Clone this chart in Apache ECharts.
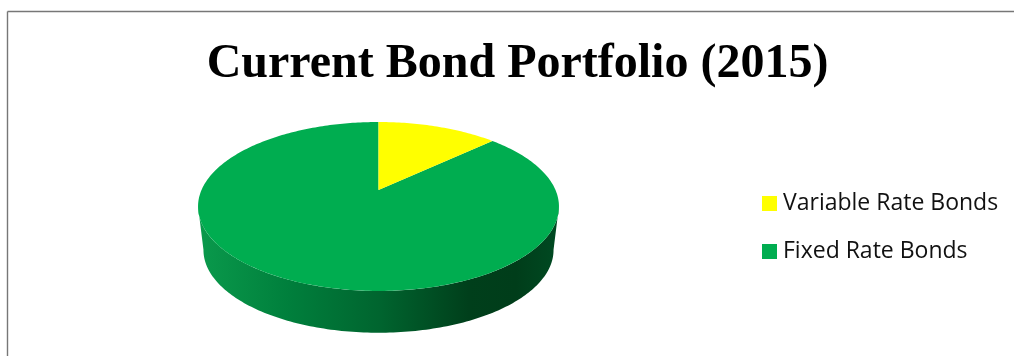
<!DOCTYPE html>
<html>
<head>
<meta charset="utf-8">
<style>html,body{margin:0;padding:0;background:#fff}#chart{width:1014px;height:356px}</style>
<script src="https://cdn.jsdelivr.net/npm/echarts@6/dist/echarts.min.js"></script>
</head>
<body>
<div id="chart"></div>
<script>
const chartTitle = 'Current Bond Portfolio (2015)';
const categories = ['Variable Rate Bonds', 'Fixed Rate Bonds'];
const shares = [13, 87];
const sliceColors = ['#ffff00', '#00ad50'];

// Perspective projection of the pie's top face: unit-circle point (u, v) to pixels.
const centerX = 378.5, horizonScale = 177, tilt = -0.195, centerY = 190, slope = 44.2;
function projectTop(u, v) {
  const d = 1 + tilt * v;
  return [centerX + horizonScale * u / d, (slope * v + centerY) / d];
}
// The lower rim of the drum is the top rim shifted down and slightly narrowed.
function projectBottom(u, v) {
  const p = projectTop(u, v);
  return [centerX + (p[0] - centerX) * 0.97, 250 + (p[1] - 206.5) * 0.98];
}
function rimPoint(fn, turn) {
  const a = turn * 2 * Math.PI;
  return fn(Math.sin(a), -Math.cos(a));
}
function arc(fn, from, to) {
  const pts = [];
  const steps = Math.max(2, Math.ceil(Math.abs(to - from) * 360));
  for (let i = 0; i <= steps; i++) pts.push(rimPoint(fn, from + (to - from) * i / steps));
  return pts;
}

const total = shares.reduce((a, b) => a + b, 0);
// Turns at which the projected rim is widest; the wall is visible between them.
const wallStart = 0.281, wallEnd = 0.719;
const wallGradient = {
  type: 'linear', x: 0, y: 0, x2: 1, y2: 0,
  colorStops: [
    { offset: 0, color: '#0a9a4c' },
    { offset: 0.25, color: '#007f3c' },
    { offset: 0.5, color: '#00652f' },
    { offset: 0.75, color: '#003f1b' },
    { offset: 0.88, color: '#003d1a' },
    { offset: 1, color: '#004a22' }
  ]
};

function sliceSeries(index) {
  const start = shares.slice(0, index).reduce((a, b) => a + b, 0) / total;
  const end = start + shares[index] / total;
  return {
    type: 'custom',
    name: categories[index],
    coordinateSystem: 'none',
    color: sliceColors[index],
    silent: true,
    data: [shares[index]],
    renderItem() {
      const children = [];
      const wallFrom = Math.max(start, wallStart), wallTo = Math.min(end, wallEnd);
      if (wallTo > wallFrom) {
        const top = arc(projectTop, wallFrom, wallTo);
        const bottom = arc(projectBottom, wallFrom, wallTo).reverse();
        children.push({
          type: 'polygon',
          shape: { points: top.concat(bottom) },
          style: { fill: wallGradient }
        });
      }
      children.push({
        type: 'polygon',
        shape: { points: [projectTop(0, 0)].concat(arc(projectTop, start, end)) },
        style: { fill: sliceColors[index] }
      });
      return { type: 'group', children };
    }
  };
}

const chart = echarts.init(document.getElementById('chart'), null, { renderer: 'canvas' });
chart.setOption({
  animation: false,
  backgroundColor: '#ffffff',
  title: {
    text: chartTitle,
    left: 512.5,
    top: 32,
    textAlign: 'center',
    textStyle: { fontFamily: 'Liberation Serif', fontWeight: 'bold', fontSize: 48, color: '#000', lineHeight: 56 }
  },
  legend: {
    orient: 'vertical',
    left: 762,
    top: 192,
    padding: 0,
    itemWidth: 15,
    itemHeight: 15,
    itemGap: 25,
    icon: 'rect',
    data: categories,
    selectedMode: false,
    textStyle: { fontFamily: 'Open Sans', fontSize: 23, lineHeight: 23, color: '#111', padding: [0, 0, 0, 1] }
  },
  graphic: [
    { type: 'line', shape: { x1: 7.5, y1: 11.5, x2: 1014, y2: 11.5 }, style: { stroke: '#777', lineWidth: 1.4 } },
    { type: 'line', shape: { x1: 7.5, y1: 11.5, x2: 7.5, y2: 356 }, style: { stroke: '#777', lineWidth: 1.4 } }
  ],
  series: [sliceSeries(1), sliceSeries(0)]
});
</script>
</body>
</html>
